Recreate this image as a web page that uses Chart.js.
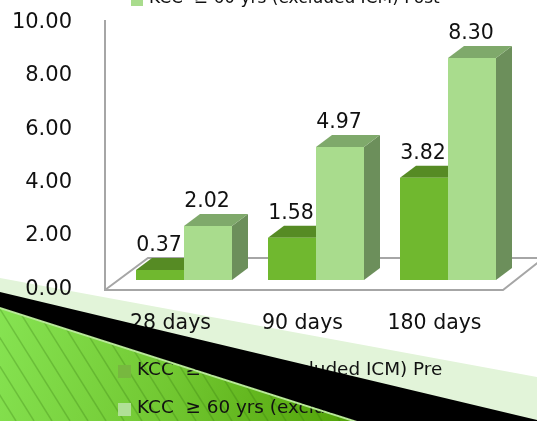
<!DOCTYPE html>
<html>
<head>
<meta charset="utf-8">
<title>KCC chart</title>
<script src="https://cdn.jsdelivr.net/npm/chart.js@4"></script>
<style>
    html, body { margin: 0; padding: 0; background: #fff; overflow: hidden; }
    canvas { display: block; }
</style>
</head>
<body>
<canvas id="barChart" width="537" height="421"></canvas>
<script>
const categories = ['28 days', '90 days', '180 days'];
const preValues = [0.37, 1.58, 3.82];
const postValues = [2.02, 4.97, 8.30];
const preLabel = 'KCC  \u2265 60 yrs (excluded ICM) Pre';
const postLabel = 'KCC  \u2265 60 yrs (excluded ICM) Post';

const FONT = '"DejaVu Sans"';
const DEPTH_X = 16, DEPTH_Y = 12;
const preFaces = { front: '#70b82f', top: '#568b24', side: '#4f7f20' };
const postFaces = { front: '#a9dc8d', top: '#7fa96b', side: '#6c8f5b' };

function poly(ctx, pts, fill) {
    ctx.beginPath();
    pts.forEach((p, i) => i ? ctx.lineTo(p[0], p[1]) : ctx.moveTo(p[0], p[1]));
    ctx.closePath();
    ctx.fillStyle = fill;
    ctx.fill();
}

// slide background: pale band and hatched green corner, under the chart
const background = {
    id: 'background',
    beforeDraw(chart) {
        const ctx = chart.ctx;
        ctx.save();
        ctx.fillStyle = '#fff';
        ctx.fillRect(0, 0, 537, 421);
        poly(ctx, [[0, 278], [537, 377], [537, 421], [0, 421]], '#e2f4d9');

        const grad = ctx.createLinearGradient(0, 310, 350, 421);
        grad.addColorStop(0, '#86e352');
        grad.addColorStop(0.5, '#72c832');
        grad.addColorStop(1, '#52a308');
        ctx.beginPath();
        ctx.moveTo(0, 307);
        ctx.lineTo(357, 421);
        ctx.lineTo(0, 421);
        ctx.closePath();
        ctx.fillStyle = grad;
        ctx.fill();
        ctx.clip();
        ctx.strokeStyle = 'rgba(50,115,15,0.28)';
        ctx.lineWidth = 1.5;
        for (let x = -120; x < 360; x += 18) {
            ctx.beginPath();
            ctx.moveTo(x, 290);
            ctx.lineTo(x + 82, 421);
            ctx.stroke();
        }
        ctx.restore();
    }
};

// floor, wall and the extruded faces of the bars, behind the bar fronts
const box3d = {
    id: 'box3d',
    beforeDatasetsDraw(chart) {
        const ctx = chart.ctx;
        const left = chart.chartArea.left - 13;
        const floor = chart.scales.y.getPixelForValue(0) + 10;
        ctx.save();
        ctx.strokeStyle = '#a6a6a6';
        ctx.lineWidth = 2;
        ctx.beginPath();
        ctx.moveTo(left, 20);
        ctx.lineTo(left, floor);
        ctx.lineTo(503, floor);
        ctx.lineTo(545, floor - 33);
        ctx.moveTo(left, floor);
        ctx.lineTo(left + 43, floor - 32);
        ctx.lineTo(537, floor - 32);
        ctx.stroke();

        [preFaces, postFaces].forEach((faces, d) => {
            chart.getDatasetMeta(d).data.forEach(bar => {
                const l = bar.x - bar.width / 2, r = bar.x + bar.width / 2;
                poly(ctx, [[r, bar.y], [r + DEPTH_X, bar.y - DEPTH_Y], [r + DEPTH_X, bar.base - DEPTH_Y], [r, bar.base]], faces.side);
                poly(ctx, [[l, bar.y], [l + DEPTH_X, bar.y - DEPTH_Y], [r + DEPTH_X, bar.y - DEPTH_Y], [r, bar.y]], faces.top);
            });
        });
        ctx.restore();
    }
};

// value labels, legend rows and finally the black band across everything
const overlay = {
    id: 'overlay',
    afterDraw(chart) {
        const ctx = chart.ctx;
        ctx.save();
        ctx.fillStyle = '#111';
        ctx.font = '20.5px ' + FONT;
        ctx.textAlign = 'center';
        ctx.textBaseline = 'middle';
        [preValues, postValues].forEach((vals, d) => {
            chart.getDatasetMeta(d).data.forEach((bar, i) => {
                ctx.fillText(vals[i].toFixed(2), bar.x - 1, bar.y - 24);
            });
        });

        ctx.textAlign = 'left';
        ctx.textBaseline = 'alphabetic';
        ctx.font = '17px ' + FONT;
        ctx.fillText(postLabel, 149, 3);
        ctx.font = '18.4px ' + FONT;
        ctx.fillText(preLabel, 137, 375);
        ctx.fillText(postLabel, 137, 413);

        ctx.fillStyle = postFaces.front;
        ctx.fillRect(131, 0, 12, 6);
        ctx.fillStyle = '#77b83f';
        ctx.fillRect(118, 365, 13, 13);
        ctx.fillStyle = '#b0e096';
        ctx.fillRect(118, 403, 13, 13);

        ctx.strokeStyle = '#b9e89a';
        ctx.lineWidth = 2;
        ctx.beginPath();
        ctx.moveTo(0, 308);
        ctx.lineTo(357, 422);
        ctx.stroke();
        poly(ctx, [[0, 292], [537, 420], [537, 430], [357, 421], [0, 307]], '#000');
        ctx.restore();
    }
};

new Chart(document.getElementById('barChart').getContext('2d'), {
    type: 'bar',
    data: {
        labels: categories,
        datasets: [
            { label: preLabel, data: preValues, backgroundColor: preFaces.front },
            { label: postLabel, data: postValues, backgroundColor: postFaces.front }
        ]
    },
    options: {
        responsive: false,
        animation: false,
        layout: { padding: { top: 10.5, right: 23, bottom: 0, left: 0 } },
        categoryPercentage: 96 / 132,
        barPercentage: 1,
        scales: {
            x: {
                grid: { display: false, drawTicks: false },
                border: { display: false },
                afterFit(scale) { scale.height = 141; },
                ticks: {
                    color: '#111',
                    font: { family: FONT, size: 20.5 },
                    padding: 31,
                    labelOffset: -13.5,
                    maxRotation: 0,
                    autoSkip: false
                }
            },
            y: {
                min: 0,
                max: 10,
                // long invisible tick marks push the labels away from the bars
                grid: { display: false, drawOnChartArea: false, drawTicks: true, tickLength: 46, tickColor: 'transparent' },
                border: { display: false },
                afterFit(scale) { scale.width = 118; },
                ticks: {
                    stepSize: 2,
                    color: '#111',
                    font: { family: FONT, size: 21 },
                    padding: 0,
                    labelOffset: 9.5,
                    callback: v => v.toFixed(2)
                }
            }
        },
        plugins: { legend: { display: false }, tooltip: { enabled: false } }
    },
    plugins: [background, box3d, overlay]
});
</script>
</body>
</html>
